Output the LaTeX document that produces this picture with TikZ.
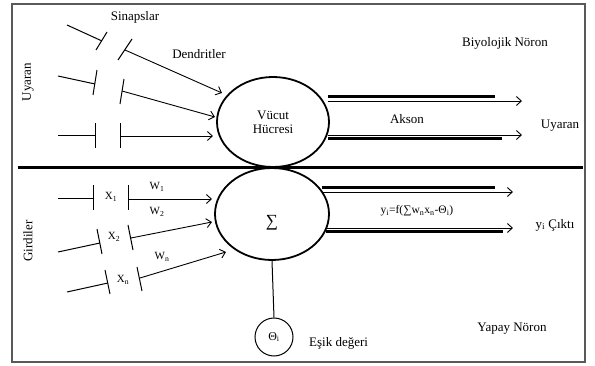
\documentclass[tikz,border=0pt]{standalone}
\usepackage{fontspec}
\setmainfont{Liberation Serif}
\usetikzlibrary{arrows.meta,shapes.geometric}
\begin{document}
\begin{tikzpicture}[x=1pt,y=-1pt,
  lbl/.style={font=\fontsize{13}{15}\selectfont, inner sep=0pt},
  sml/.style={font=\fontsize{11}{13}\selectfont, inner sep=0pt},
  syn/.style={line width=1pt},
  arr/.style={line width=0.9pt,-{Straight Barb[length=5pt,width=9pt,line width=0.9pt]}},
  thk/.style={line width=3pt},
  body/.style={ellipse, draw, line width=1.8pt, inner sep=0pt}]
\useasboundingbox (0,0) rectangle (595,366);
\draw[line width=1.5pt, black!65] (12,4) rectangle (585,362);
\coordinate (dl) at (18,168);
\coordinate (dr) at (583,168);
\draw[line width=3pt] (dl) -- (dr);

% biological neuron
\node[body, minimum width=112pt, minimum height=90pt, align=center, lbl] (cell) at (273,122) {Vücut\\[-1pt]Hücresi};
\node[lbl] (sin) at (135,17) {Sinapslar};
\node[lbl] (den) at (199,54) {Dendritler};
\node[lbl] (bio) at (505,43) {Biyolojik Nöron};
\node[lbl, rotate=90] (uy1) at (28,82) {Uyaran};
\node[lbl] (akson) at (407,119) {Akson};
\node[lbl] (uy2) at (560,126) {Uyaran};

% dendrite row 1
\coordinate (a1) at (67,25); \coordinate (a2) at (102,41);
\coordinate (t1a) at (96,50); \coordinate (t1b) at (107,32);
\coordinate (t2a) at (118,60); \coordinate (t2b) at (132,39);
\coordinate (s1) at (125,50); \coordinate (e1) at (222,93);
\draw[syn] (a1) -- (a2); \draw[syn] (t1a) -- (t1b); \draw[syn] (t2a) -- (t2b);
\draw[arr] (s1) -- (e1);
% dendrite row 2
\coordinate (b1) at (58,76); \coordinate (b2) at (95,84);
\coordinate (u1a) at (93,95); \coordinate (u1b) at (97,70);
\coordinate (u2a) at (120,104); \coordinate (u2b) at (124,79);
\coordinate (s2) at (122,91); \coordinate (e2) at (215,117);
\draw[syn] (b1) -- (b2); \draw[syn] (u1a) -- (u1b); \draw[syn] (u2a) -- (u2b);
\draw[arr] (s2) -- (e2);
% dendrite row 3
\coordinate (c1) at (58,136); \coordinate (c2) at (95,136);
\coordinate (v1a) at (95,123); \coordinate (v1b) at (95,148);
\coordinate (v2a) at (120,123); \coordinate (v2b) at (120,148);
\coordinate (s3) at (120,136); \coordinate (e3) at (213,136);
\draw[syn] (c1) -- (c2); \draw[syn] (v1a) -- (v1b); \draw[syn] (v2a) -- (v2b);
\draw[arr] (s3) -- (e3);

% axon
\coordinate (ax1) at (328,97); \coordinate (ax1e) at (495,97);
\coordinate (ax2) at (328,101); \coordinate (ax2e) at (522,101);
\coordinate (ax3) at (328,135); \coordinate (ax3e) at (522,135);
\coordinate (ax4) at (328,139); \coordinate (ax4e) at (502,139);
\draw[thk] (ax1) -- (ax1e);
\draw[arr] (ax2) -- (ax2e);
\draw[arr] (ax3) -- (ax3e);
\draw[thk] (ax4) -- (ax4e);

% artificial neuron
\node[body, minimum width=114pt, minimum height=92pt] (sum) at (272,214) {};
\node[font=\fontsize{17}{18}\selectfont, inner sep=0pt] (sig) at (272,223) {∑};
\node[lbl, rotate=90] (gir) at (28,241) {Girdiler};
\node[draw, circle, line width=1pt, minimum size=38pt, inner sep=0pt, font=\fontsize{12}{14}\selectfont] (th) at (274,337) {Θ\textsubscript{i}};
\draw[line width=1pt] (sum.south) -- (th.north);
\node[lbl, anchor=west] (esik) at (309,343) {Eşik değeri};
\node[lbl] (yapay) at (512,329) {Yapay Nöron};
\node[font=\fontsize{11.5}{13}\selectfont, inner sep=0pt] (form) at (417,211) {y\textsubscript{i}=f(∑w\textsubscript{n}x\textsubscript{n}-Θ\textsubscript{i})};
\node[lbl] (cikti) at (555,225) {y\textsubscript{i} Çıktı};

% input row 1
\coordinate (p1) at (58,199); \coordinate (p2) at (93,199);
\coordinate (q1a) at (93,185); \coordinate (q1b) at (93,210);
\coordinate (q2a) at (128,185); \coordinate (q2b) at (128,210);
\coordinate (r1) at (128,199); \coordinate (f1) at (212,199);
\draw[syn] (p1) -- (p2); \draw[syn] (q1a) -- (q1b); \draw[syn] (q2a) -- (q2b);
\draw[arr] (r1) -- (f1);
\node[sml] (x1) at (111,197) {X\textsubscript{1}};
\node[sml] (w1) at (157,187) {W\textsubscript{1}};
% input row 2
\coordinate (p3) at (58,252); \coordinate (p4) at (100,243);
\coordinate (q3a) at (97,229); \coordinate (q3b) at (102,254);
\coordinate (q4a) at (128,225); \coordinate (q4b) at (133,250);
\coordinate (r2) at (131,238); \coordinate (f2) at (212,222);
\draw[syn] (p3) -- (p4); \draw[syn] (q3a) -- (q3b); \draw[syn] (q4a) -- (q4b);
\draw[arr] (r2) -- (f2);
\node[sml] (x2) at (114,237) {X\textsubscript{2}};
\node[sml] (w2) at (157,212) {W\textsubscript{2}};
% input row 3
\coordinate (p5) at (67,292); \coordinate (p6) at (108,283);
\coordinate (q5a) at (105,270); \coordinate (q5b) at (110,294);
\coordinate (q6a) at (137,267); \coordinate (q6b) at (142,291);
\coordinate (r3) at (140,278); \coordinate (f3) at (226,252);
\draw[syn] (p5) -- (p6); \draw[syn] (q5a) -- (q5b); \draw[syn] (q6a) -- (q6b);
\draw[arr] (r3) -- (f3);
\node[sml] (xn) at (123,280) {X\textsubscript{n}};
\node[sml] (wn) at (162,257) {W\textsubscript{n}};

% output lines
\coordinate (o1) at (322,188); \coordinate (o1e) at (495,188);
\coordinate (o2) at (322,192); \coordinate (o2e) at (513,192);
\coordinate (o3) at (326,228); \coordinate (o3e) at (513,228);
\coordinate (o4) at (326,232); \coordinate (o4e) at (503,232);
\draw[thk] (o1) -- (o1e);
\draw[arr] (o2) -- (o2e);
\draw[arr] (o3) -- (o3e);
\draw[thk] (o4) -- (o4e);
\end{tikzpicture}
\end{document}
